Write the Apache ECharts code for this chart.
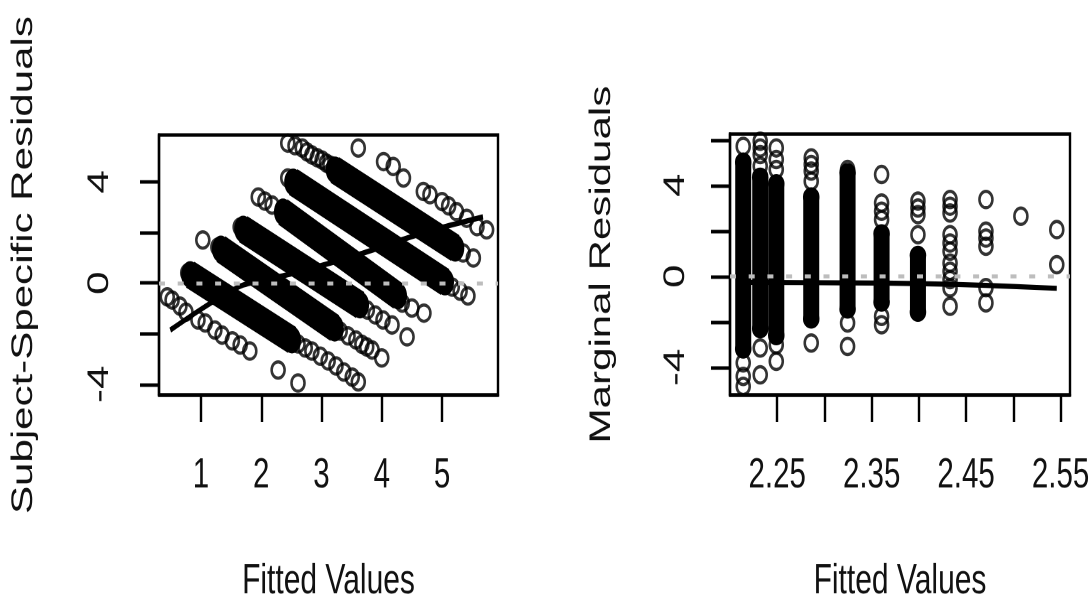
<!DOCTYPE html>
<html>
<head>
<meta charset="utf-8">
<script src="https://cdn.jsdelivr.net/npm/echarts@6/dist/echarts.min.js"></script>
<style>
html,body{margin:0;padding:0;background:#fff;width:1091px;height:594px;overflow:hidden;}
#wrap{position:relative;width:1091px;height:594px;overflow:hidden;background:#fff;}
/* the reference is an R graphic stretched vertically; reproduce that stretch */
#chart{position:absolute;left:0;top:0;width:1091px;height:418px;transform:scaleY(1.42105);transform-origin:0 0;}
</style>
</head>
<body>
<div id="wrap"><div id="chart"></div></div>
<script>
// ---------------- data ----------------
const leftXTicks = [1, 2, 3, 4, 5];
const leftYTicks = [-4, -2, 0, 2, 4];
const leftYLabels = [-4, 0, 4];
const rightXTicks = [2.25, 2.30, 2.35, 2.40, 2.45, 2.50, 2.55];
const rightXLabels = [2.25, 2.35, 2.45, 2.55];
const rightYTicks = [-4, -2, 0, 2, 4, 6];
const rightYLabels = [-4, 0, 4];

const xTitle = 'Fitted Values';
const leftYTitle = 'Subject-Specific Residuals';
const rightYTitle = 'Marginal Residuals';

// left panel: individual (open) points
const leftPoints = [
  [3.61,5.34],[4.03,4.80],[4.19,4.61],[4.36,4.15],[4.69,3.62],[4.80,3.49],[5.00,3.22],[5.11,3.05],[5.24,2.82],[5.41,2.56],[5.58,2.23],[5.74,2.10],
  [2.44,5.53],[2.56,5.43],[2.68,5.34],[2.76,5.18],[2.84,5.06],[2.93,4.95],[3.01,4.86],[3.08,4.74],[3.14,4.66],
  [5.35,1.19],[5.52,0.99],
  [2.44,4.15],[5.17,-0.16],[5.30,-0.32],[5.43,-0.51],
  [1.95,3.40],[2.06,3.24],[2.18,3.08],[4.34,-0.79],[4.50,-0.99],[4.70,-1.19],
  [1.65,2.21],[3.76,-1.07],[3.89,-1.26],[4.02,-1.46],[4.17,-1.66],[4.42,-2.13],
  [1.28,1.42],[3.31,-1.90],[3.44,-2.09],[3.57,-2.25],[3.67,-2.42],[3.75,-2.53],[3.84,-2.65],[4.00,-2.96],
  [0.78,0.40],[2.61,-2.41],[2.73,-2.57],[2.84,-2.69],[2.98,-2.89],[3.11,-3.08],[3.24,-3.28],[3.37,-3.52],[3.51,-3.72],[3.61,-3.91],
  [0.44,-0.55],[0.52,-0.67],[0.65,-0.91],[0.75,-1.15],[0.95,-1.46],[1.07,-1.58],[1.23,-1.86],[1.35,-2.06],[1.52,-2.29],[1.65,-2.45],[1.81,-2.69],
  [1.03,1.70],[2.28,-3.44],[2.61,-3.95]
];
// left panel: dense overlapping runs of points [x1, y1, x2, y2]
const leftBands = [
  [3.22, 4.47, 5.22, 1.38],
  [2.53, 3.99, 5.05, 0.04],
  [2.36, 2.81, 4.27, -0.51],
  [1.70, 2.13, 3.64, -0.87],
  [1.33, 1.34, 3.22, -1.78],
  [0.82, 0.33, 2.51, -2.25]
];
// left panel: smooth trend
const leftSmooth = [[0.49,-1.86],[0.98,-1.07],[1.40,-0.45],[1.70,-0.08],[2.48,0.35],[3.09,0.75],[3.69,1.18],[4.35,1.72],[4.97,2.17],[5.68,2.61]];

// right panel: individual (open) points
const rightPoints = [
  [2.214,5.71],[2.214,-3.81],[2.214,-4.40],[2.214,-4.84],
  [2.232,5.93],[2.232,5.64],[2.232,5.35],[2.232,4.84],[2.232,-3.15],[2.232,-4.33],
  [2.249,5.64],[2.249,5.13],[2.249,4.69],[2.249,-3.01],[2.249,-3.74],
  [2.286,5.20],[2.286,4.91],[2.286,4.62],[2.286,4.18],[2.286,-2.93],
  [2.3245,4.69],[2.3245,-2.05],[2.3245,-3.08],
  [2.3605,4.47],[2.3605,3.22],[2.3605,2.86],[2.3605,2.49],[2.3605,-1.76],[2.3605,-2.13],
  [2.399,3.30],[2.399,3.00],[2.399,2.71],[2.399,1.83],
  [2.433,3.37],[2.433,3.08],[2.433,2.78],[2.433,1.83],[2.433,1.46],[2.433,1.10],[2.433,0.58],[2.433,0.22],[2.433,-0.15],[2.433,-0.51],[2.433,-1.32],
  [2.471,3.37],[2.471,1.98],[2.471,1.68],[2.471,1.32],[2.471,-0.50],[2.471,-1.17],
  [2.508,2.64],
  [2.546,2.05],[2.546,0.51]
];
// right panel: dense columns [x, yTop, yBottom]
const rightColumns = [
  [2.214, 5.02, -3.20],
  [2.232, 4.36, -2.31],
  [2.249, 4.07, -2.61],
  [2.286, 3.49, -1.88],
  [2.3245, 4.55, -1.44],
  [2.3605, 1.87, -1.14],
  [2.399, 0.92, -1.58]
];
// right panel: smooth trend
const rightSmooth = [[2.214,-0.27],[2.3245,-0.29],[2.399,-0.32],[2.471,-0.40],[2.546,-0.53]];

// ---------------- styling ----------------
const FONT = "'Liberation Sans','Arial',sans-serif";
const INK = '#111';

function xAxisDef(grid, min, max, ticks, labels, fmt) {
  return {
    type: 'value', gridIndex: grid, min: min, max: max,
    name: xTitle, nameLocation: 'middle', nameGap: 116,
    nameTextStyle: { fontFamily: FONT, fontSize: 30, color: INK },
    axisLine: { show: true, onZero: false, lineStyle: { color: '#000', width: 2.4 } },
    axisTick: { show: true, inside: false, length: 19, lineStyle: { color: '#000', width: 2.4 }, customValues: ticks },
    axisLabel: { show: true, margin: 42, fontFamily: FONT, fontSize: 29.5, color: INK, customValues: labels, formatter: fmt },
    splitLine: { show: false }
  };
}
function yAxisDef(grid, min, max, ticks, labels, name, nameGap, margin) {
  return {
    type: 'value', gridIndex: grid, min: min, max: max,
    name: name, nameLocation: 'middle', nameGap: nameGap,
    nameTextStyle: { fontFamily: FONT, fontSize: 29.6, color: INK },
    axisLine: { show: true, onZero: false, lineStyle: { color: '#000', width: 2.4 } },
    axisTick: { show: true, inside: false, length: 19, lineStyle: { color: '#000', width: 2.4 }, customValues: ticks },
    axisLabel: { show: true, rotate: 90, margin: margin, fontFamily: FONT, fontSize: 29.5, color: INK, customValues: labels },
    splitLine: { show: false }
  };
}

const openPoint = {
  symbol: 'circle', symbolSize: [13, 11.5],
  itemStyle: { color: 'rgba(255,255,255,0)', borderColor: '#000', borderWidth: 2.4 }
};
function band(xi, yi, pts, width, sym) {
  return {
    type: 'line', xAxisIndex: xi, yAxisIndex: yi, data: pts,
    symbol: 'circle', symbolSize: sym, showSymbol: true,
    itemStyle: { color: '#000', borderWidth: 0 },
    lineStyle: { color: '#000', width: width, cap: 'butt' },
    z: 2, silent: true
  };
}
function refLine(xi, yi) {
  return {
    type: 'line', xAxisIndex: xi, yAxisIndex: yi, data: [], z: 5, silent: true,
    markLine: {
      silent: true, symbol: ['none', 'none'], label: { show: false },
      lineStyle: { color: '#bdbdbd', width: 2.8, type: [6, 12.7] },
      data: [{ yAxis: 0 }]
    }
  };
}

const series = [];
series.push(Object.assign({ type: 'scatter', xAxisIndex: 0, yAxisIndex: 0, data: leftPoints, z: 2, silent: true }, openPoint));
leftBands.forEach(b => series.push(band(0, 0, [[b[0], b[1]], [b[2], b[3]]], 20, [18, 19])));
series.push({ type: 'line', xAxisIndex: 0, yAxisIndex: 0, data: leftSmooth, smooth: 0.3, symbol: 'none',
  lineStyle: { color: '#000', width: 3.8 }, z: 3, silent: true });
series.push(refLine(0, 0));

series.push(Object.assign({ type: 'scatter', xAxisIndex: 1, yAxisIndex: 1, data: rightPoints, z: 2, silent: true }, openPoint));
rightColumns.forEach(c => series.push(band(1, 1, [[c[0], c[1]], [c[0], c[2]]], 16, [16.5, 13.5])));
series.push({ type: 'line', xAxisIndex: 1, yAxisIndex: 1, data: rightSmooth, smooth: 0.3, symbol: 'none',
  lineStyle: { color: '#000', width: 3.6 }, z: 3, silent: true });
series.push(refLine(1, 1));

const chart = echarts.init(document.getElementById('chart'), null, { renderer: 'canvas', devicePixelRatio: 2 });
chart.setOption({
  animation: false,
  backgroundColor: '#fff',
  grid: [
    { left: 159, top: 95.0, width: 339, height: 183.0, show: true, borderColor: '#000', borderWidth: 2.4, backgroundColor: 'transparent', containLabel: false, outerBoundsMode: 'none' },
    { left: 730, top: 94.3, width: 340, height: 183.7, show: true, borderColor: '#000', borderWidth: 2.4, backgroundColor: 'transparent', containLabel: false, outerBoundsMode: 'none' }
  ],
  xAxis: [
    xAxisDef(0, 0.303, 5.929, leftXTicks, leftXTicks, v => String(v)),
    xAxisDef(1, 2.2, 2.56, rightXTicks, rightXLabels, v => v.toFixed(2))
  ],
  yAxis: [
    yAxisDef(0, -4.43, 5.85, leftYTicks, leftYLabels, leftYTitle, 120, 44),
    yAxisDef(1, -5.22, 6.25, rightYTicks, rightYLabels, rightYTitle, 113, 39)
  ],
  series: series
});
</script>
</body>
</html>
